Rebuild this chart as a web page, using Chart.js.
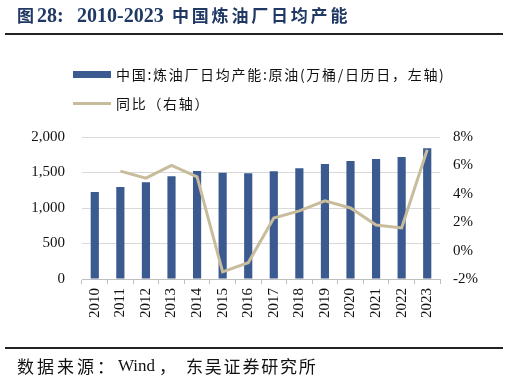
<!DOCTYPE html>
<html><head><meta charset="utf-8">
<script src="https://cdn.jsdelivr.net/npm/chart.js@4"></script>
<style>
html,body{margin:0;padding:0;background:#fff;}
#wrap{position:relative;width:509px;height:382px;overflow:hidden;font-family:"Liberation Serif","Noto Sans CJK SC",serif;}
#c{position:absolute;left:0;top:0;}
.abs{position:absolute;white-space:nowrap;}
.t{top:4px;font-weight:bold;color:#1f3864;line-height:22px;}
.tc{font-family:"Noto Sans CJK SC",sans-serif;font-size:17px;}
.td{font-family:"Liberation Serif",serif;font-size:20px;}
#tline{left:5px;top:33px;width:498px;height:2px;background:#222;}
#bline{left:5px;top:347px;width:498px;height:2px;background:#222;}
.src{top:355px;font-size:17px;line-height:22px;color:#111;}
.cj{font-family:"Noto Sans CJK SC",sans-serif;}
.lg{font-size:14px;color:#111;line-height:18px;letter-spacing:1.7px;font-family:"Noto Sans CJK SC","Liberation Serif",sans-serif;}
</style></head>
<body><div id="wrap">
<canvas id="c" width="509" height="382"></canvas>
<div class="abs t tc" style="left:17px;">图</div>
<div class="abs t td" style="left:37px;">28:</div>
<div class="abs t td" style="left:77px;">2010-2023</div>
<div class="abs t tc" style="left:172px;letter-spacing:2.8px;">中国炼油厂日均产能</div>
<div id="tline" class="abs"></div>
<div class="abs" style="left:73px;top:71px;width:38px;height:7px;background:#3a5a90;"></div>
<div class="abs lg" style="left:116px;top:65px;">中国:炼油厂日均产能:原油(万桶/日历日，左轴)</div>
<div class="abs" style="left:73px;top:102px;width:38px;height:3px;background:#c8bc9c;"></div>
<div class="abs lg" style="left:116px;top:94px;">同比（右轴）</div>
<div id="bline" class="abs"></div>
<div class="abs src cj" style="left:17px;letter-spacing:3px;">数据来源：</div>
<div class="abs src" style="left:118px;">Wind</div>
<div class="abs src cj" style="left:159px;">，</div>
<div class="abs src cj" style="left:186px;letter-spacing:1.8px;">东吴证券研究所</div>
</div>
<script>
const years = ["2010","2011","2012","2013","2014","2015","2016","2017","2018","2019","2020","2021","2022","2023"];
const capacity = [1225,1296,1362,1446,1521,1497,1488,1517,1559,1620,1662,1690,1718,1841];
const yoy = [null,5.6,5.1,6.0,5.2,-1.5,-0.85,2.3,2.8,3.5,3.0,1.8,1.6,7.1];
const leftTicks = [0,500,1000,1500,2000];
const rightTicks = [-2,0,2,4,6,8];

const serif = "'Liberation Serif','Times New Roman',serif";
new Chart(document.getElementById('c'), {
  data: {
    labels: years,
    datasets: [
      {type:'line', label:'同比（右轴）', data: yoy, yAxisID:'y1', borderColor:'#c8bc9c', backgroundColor:'#c8bc9c', borderWidth:3, pointRadius:0, tension:0, spanGaps:false, order:0},
      {type:'bar', label:'中国:炼油厂日均产能:原油(万桶/日历日，左轴)', data: capacity, yAxisID:'y', backgroundColor:'#3a5a90', barPercentage:0.32, categoryPercentage:1.0, order:1}
    ]
  },
  options: {
    responsive:false, animation:false, devicePixelRatio:1,
    layout:{padding:{top:137,left:0,right:0,bottom:0}},
    plugins:{legend:{display:false}, tooltip:{enabled:false}},
    scales:{
      x:{
        grid:{display:true, drawOnChartArea:false, drawTicks:true, tickLength:5, color:'#bfbfbf', offset:true},
        border:{display:true, color:'#bfbfbf'},
        ticks:{minRotation:90, maxRotation:90, padding:4, color:'#111', font:{family:serif, size:15}},
        afterFit(s){ s.height = 103; }
      },
      y:{
        position:'left', min:0, max:2000,
        afterBuildTicks(s){ s.ticks = leftTicks.map(v=>({value:v})); },
        grid:{color:'#d9d9d9', drawTicks:false},
        border:{display:false},
        ticks:{padding:17, color:'#111', font:{family:serif, size:15}, callback:v=>v.toLocaleString('en-US')},
        afterFit(s){ s.width = 82; }
      },
      y1:{
        position:'right', min:-2, max:8,
        afterBuildTicks(s){ s.ticks = rightTicks.map(v=>({value:v})); },
        grid:{drawOnChartArea:false, drawTicks:false},
        border:{display:false},
        ticks:{padding:13, color:'#111', font:{family:serif, size:15}, callback:v=>v+'%'},
        afterFit(s){ s.width = 69; }
      }
    }
  }
});
</script>
</body></html>
